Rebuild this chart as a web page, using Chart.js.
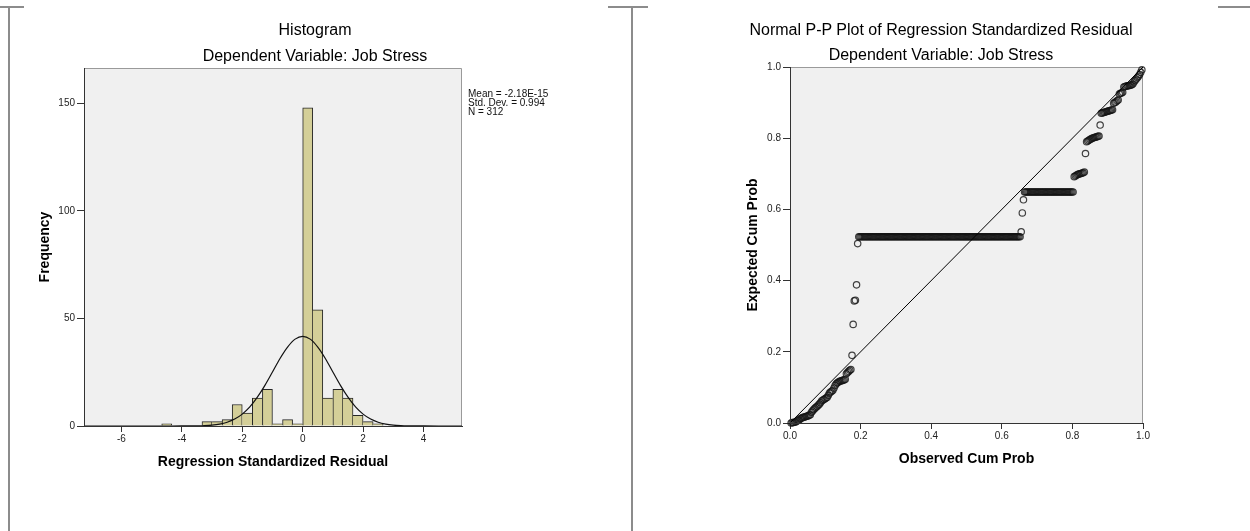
<!DOCTYPE html>
<html><head><meta charset="utf-8">
<script src="https://cdn.jsdelivr.net/npm/chart.js@4.4.0/dist/chart.umd.min.js"></script>
<style>
html,body{margin:0;padding:0;background:#fff;width:1250px;height:531px;overflow:hidden;}
body{position:relative;font-family:"Liberation Sans",Arial,sans-serif;color:#000;}
.ln{position:absolute;background:#8c8c8c;}
.ttl{position:absolute;transform:translateX(-50%);white-space:nowrap;font-size:16px;line-height:16px;}
#c1{position:absolute;left:10px;top:0;}
#c2{position:absolute;left:633px;top:0;}
#stats{position:absolute;left:468px;top:89px;font-size:10px;line-height:9px;color:#111;white-space:pre;}
</style></head><body>
<div class="ln" style="left:0;top:6px;width:24px;height:2px"></div>
<div class="ln" style="left:608px;top:6px;width:40px;height:2px"></div>
<div class="ln" style="left:1218px;top:6px;width:32px;height:2px"></div>
<div class="ln" style="left:8px;top:6px;width:2px;height:525px"></div>
<div class="ln" style="left:631px;top:6px;width:2px;height:525px"></div>
<canvas id="c1" width="622" height="531"></canvas>
<canvas id="c2" width="617" height="531"></canvas>
<div class="ttl" id="t1" style="left:315px;top:22px"></div>
<div class="ttl" id="t1b" style="left:315px;top:48px"></div>
<div class="ttl" id="t2" style="left:941px;top:22px"></div>
<div class="ttl" id="t2b" style="left:941px;top:47px"></div>
<div id="stats"></div>
<script>
// ---------- data ----------
const histTitle = 'Histogram';
const ppTitle = 'Normal P-P Plot of Regression Standardized Residual';
const depTitle = 'Dependent Variable: Job Stress';
const histXTitle = 'Regression Standardized Residual';
const histYTitle = 'Frequency';
const ppXTitle = 'Observed Cum Prob';
const ppYTitle = 'Expected Cum Prob';

const statMean = '-2.18E-15';
const statSD = '0.994';
const statN = '312';

// histogram bins (width 1/3), centers and counts
const binCenters = [-4.500,-3.167,-2.833,-2.500,-2.167,-1.833,-1.500,-1.167,-0.833,-0.500,-0.167,0.167,0.500,0.833,1.167,1.500,1.833,2.167,2.500];
const binCounts  = [1,2,2,3,10,6,13,17,1,3,1,148,54,13,17,13,5,2,1];

// fitted normal curve
const curveX = [-7.25,-5,-4.5,-4,-3.75,-3.5,-3.25,-3,-2.75,-2.5,-2.25,-2,-1.75,-1.5,-1.25,-1,-0.75,-0.5,-0.25,0,0.25,0.5,0.75,1,1.25,1.5,1.75,2,2.25,2.5,2.75,3,3.25,3.5,3.75,4,4.5,5,5.27];
const curveY = [0,0,0.001,0.013,0.034,0.085,0.20,0.44,0.91,1.76,3.22,5.51,8.85,13.4,18.9,25.1,31.4,36.7,40.4,41.7,40.4,36.7,31.4,25.1,18.9,13.4,8.85,5.51,3.22,1.76,0.91,0.44,0.20,0.085,0.034,0.013,0.001,0,0];

const histXTicks = [-6,-4,-2,0,2,4];
const histXTickLabels = ['-6','-4','-2','0','2','4'];
const histYTicks = [0,50,100,150];
const histYTickLabels = ['0','50','100','150'];

// P-P plot: expected cumulative probability of each case, in rank order
const ppExpected = [
 0.000,0.001,0.0013,0.002,0.003,0.005,0.007,0.008,
 0.012,0.013,0.015,0.016,0.017,0.018,0.019,0.020,0.022,0.023,
 0.030,0.034,0.038,0.041,0.044,0.046,
 0.050,0.053,0.057,0.062,0.064,0.066,0.068,0.070,0.072,0.078,0.084,0.087,0.089,
 0.092,0.098,0.105,0.110,0.113,0.115,0.117,0.118,0.119,0.120,0.121,0.123,0.138,0.142,0.145,0.148,0.150,
 0.190,0.277,0.343,0.345,0.388,0.504,
 ...Array(144).fill(0.523),
 0.537,0.590,0.627,
 ...Array(44).fill(0.649),
 0.692,0.694,0.696,0.698,0.699,0.700,0.701,0.702,0.703,0.705,
 0.757,
 0.790,0.792,0.794,0.796,0.798,0.800,0.801,0.802,0.803,0.804,0.805,0.806,
 0.837,
 0.870,0.871,0.872,0.873,0.874,0.875,0.876,0.877,0.878,0.879,0.880,
 0.898,0.900,0.902,0.905,0.907,
 0.924,0.926,0.927,0.929,
 0.944,0.945,0.946,0.947,0.947,0.948,0.949,0.950,0.952,
 0.958,0.962,0.966,0.970,0.974,
 0.979,0.985,
 0.992
];
const ppTicks = [0,0.2,0.4,0.6,0.8,1.0];
const ppTickLabels = ['0.0','0.2','0.4','0.6','0.8','1.0'];
const diagX = [0,1];
const diagY = [0,1];

// ---------- text ----------
document.getElementById('t1').textContent = histTitle;
document.getElementById('t1b').textContent = depTitle;
document.getElementById('t2').textContent = ppTitle;
document.getElementById('t2b').textContent = depTitle;
document.getElementById('stats').textContent =
  'Mean = ' + statMean + '\nStd. Dev. = ' + statSD + '\nN = ' + statN;

// ---------- common ----------
const F = '"Liberation Sans", Arial, sans-serif';
const AX = '#333333';
const frame = {
  id: 'frame',
  beforeDraw(c) {
    const a = c.chartArea, x = c.ctx;
    x.save();
    x.fillStyle = '#f0f0f0';
    x.fillRect(a.left, a.top, a.right - a.left, a.bottom - a.top);
    x.strokeStyle = '#9a9a9a';
    x.lineWidth = 1;
    x.beginPath();
    x.moveTo(a.left, a.top + 0.5);
    x.lineTo(a.right - 0.5, a.top + 0.5);
    x.lineTo(a.right - 0.5, a.bottom);
    x.stroke();
    x.restore();
  }
};
function axisCommon(ticksArr, labelsArr, tickLen, pad) {
  return {
    grid: { display: true, offset: false, drawOnChartArea: false, drawTicks: true, tickLength: tickLen, color: AX, tickWidth: 1 },
    border: { display: true, color: AX, width: 1, z: 1 },
    ticks: { font: { size: 10, family: F }, color: '#222', padding: pad, autoSkip: false, maxRotation: 0,
             callback: (v, i) => labelsArr[i] },
    afterBuildTicks: s => { s.ticks = ticksArr.map(v => ({ value: v })); }
  };
}

// ---------- histogram ----------
const bars = binCenters.map((c, i) => ({ x: c, y: binCounts[i] }));
const curve = curveX.map((x, i) => ({ x: x, y: curveY[i] }));
function adjH(i, d) {
  const j = i + d;
  if (j < 0 || j >= binCenters.length) return 0;
  return Math.abs(binCenters[j] - binCenters[i]) < 0.4 ? binCounts[j] : 0;
}
new Chart(document.getElementById('c1'), {
  type: 'bar',
  data: {
    datasets: [
      {
        type: 'line', data: curve, borderColor: '#111', borderWidth: 1.2, pointRadius: 0,
        cubicInterpolationMode: 'monotone', fill: false, order: 0
      },
      {
        type: 'bar', data: bars, backgroundColor: '#d4cf98', borderColor: '#262626',
        barPercentage: 1, categoryPercentage: 1, borderSkipped: false, order: 1,
        borderWidth: ctx => {
          const i = ctx.dataIndex, h = binCounts[i];
          return { top: 1, bottom: 0, left: adjH(i, -1) < h ? 1 : 0, right: adjH(i, 1) <= h ? 1 : 0 };
        }
      }
    ]
  },
  options: {
    responsive: false, animation: false,
    layout: { padding: { left: 0, right: 170, top: 68, bottom: 0 } },
    plugins: { legend: { display: false }, tooltip: { enabled: false }, title: { display: false } },
    scales: {
      x: Object.assign(axisCommon(histXTicks, histXTickLabels, 6, 1), {
        type: 'linear', min: -7.24, max: 5.275, offset: false,
        title: { display: true, text: histXTitle, color: '#000',
                 font: { size: 14, weight: 'bold', family: F }, padding: { top: 0, bottom: 60 } },
        afterFit: s => { s.height = 105; }
      }),
      y: Object.assign(axisCommon(histYTicks, histYTickLabels, 7, 2), {
        type: 'linear', min: 0, max: 166.5,
        title: { display: true, text: histYTitle, color: '#000',
                 font: { size: 14, weight: 'bold', family: F }, padding: { top: 27, bottom: 0 } },
        afterFit: s => { s.width = 74; }
      })
    }
  },
  plugins: [frame]
});

// ---------- P-P plot ----------
const ppPoints = ppExpected.map((y, i) => ({ x: (i + 1) / (ppExpected.length + 1), y: y }));
const diag = diagX.map((x, i) => ({ x: x, y: diagY[i] }));
new Chart(document.getElementById('c2'), {
  type: 'scatter',
  data: {
    datasets: [
      { type: 'line', data: diag, borderColor: '#000', borderWidth: 1, pointRadius: 0, fill: false, order: 0 },
      { data: ppPoints, pointRadius: 3.2, pointBorderWidth: 1.2, borderColor: 'rgba(20,20,20,0.8)',
        backgroundColor: 'rgba(0,0,0,0)', pointBackgroundColor: 'rgba(0,0,0,0)', clip: false, order: 1 }
    ]
  },
  options: {
    responsive: false, animation: false,
    layout: { padding: { left: 0, right: 107, top: 67, bottom: 0 } },
    plugins: { legend: { display: false }, tooltip: { enabled: false }, title: { display: false } },
    scales: {
      x: Object.assign(axisCommon(ppTicks, ppTickLabels, 6, 1), {
        type: 'linear', min: 0, max: 1,
        title: { display: true, text: ppXTitle, color: '#000',
                 font: { size: 14, weight: 'bold', family: F }, padding: { top: 0, bottom: 63 } },
        afterFit: s => { s.height = 108; }
      }),
      y: Object.assign(axisCommon(ppTicks, ppTickLabels, 7, 2), {
        type: 'linear', min: 0, max: 1,
        title: { display: true, text: ppYTitle, color: '#000',
                 font: { size: 14, weight: 'bold', family: F }, padding: { top: 112, bottom: 0 } },
        afterFit: s => { s.width = 157; }
      })
    }
  },
  plugins: [frame]
});
</script>
</body></html>
